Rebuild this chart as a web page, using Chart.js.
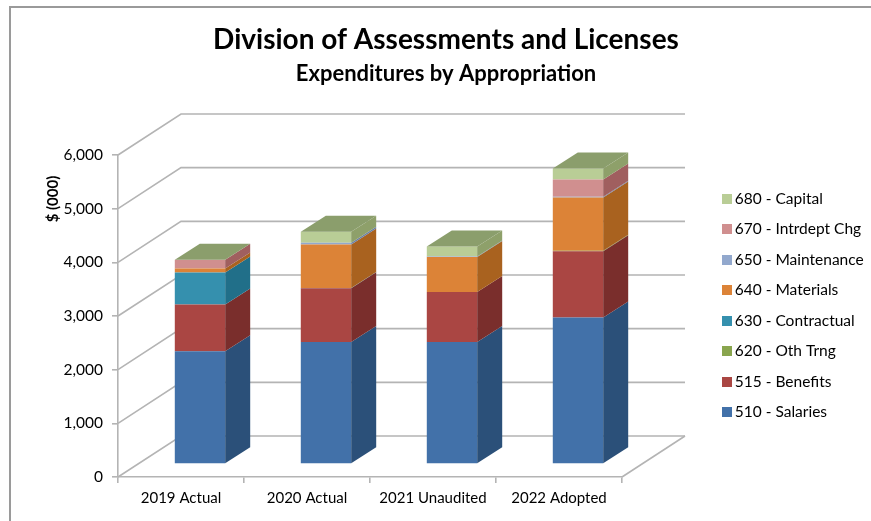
<!DOCTYPE html>
<html>
<head>
<meta charset="utf-8">
<style>
    html, body { margin: 0; padding: 0; background: #fff; }
    #wrap { width: 871px; height: 521px; }
</style>
<script src="https://cdn.jsdelivr.net/npm/chart.js@4/dist/chart.umd.min.js"></script>
</head>
<body>
<div id="wrap"><canvas id="expChart" width="871" height="521"></canvas></div>
<script>
const categories = ['2019 Actual', '2020 Actual', '2021 Unaudited', '2022 Adopted'];
const yTicks = [0, 1000, 2000, 3000, 4000, 5000, 6000];

const salaries = [2100, 2275, 2275, 2730];
const benefits = [874, 1000, 930, 1235];
const othTrng = [0, 0, 0, 10];
const contractual = [594, 5, 0, 0];
const materials = [74, 811, 650, 990];
const maintenance = [0, 30, 10, 15];
const intrdeptChg = [162, 0, 0, 320];
const capital = [0, 205, 190, 204];

const seriesNames = ['510 - Salaries', '515 - Benefits', '620 - Oth Trng', '630 - Contractual',
    '640 - Materials', '650 - Maintenance', '670 - Intrdept Chg', '680 - Capital'];
const seriesValues = [salaries, benefits, othTrng, contractual, materials, maintenance, intrdeptChg, capital];
const frontColors = ['#4271a9', '#aa4643', '#89a54e', '#3590ae', '#dc8337', '#92a8cd', '#d08f8f', '#b9cd96'];
const sideColors = ['#2b5079', '#7a2e2c', '#6a8139', '#216f89', '#a9621f', '#6b7fa3', '#a05f5f', '#8ea06a'];
const topColor = '#8b9e6c';
const gridColor = '#b4b4b4';
const fontName = 'Lato, "Open Sans", sans-serif';

// fake 3D: how far the back wall sits from the front of the floor
const WALL_DX = 63, WALL_DY = -41;
const BAR_DX = 19, BAR_DY = -13;      // bar front face, from the axis plane
const DEPTH_DX = 25, DEPTH_DY = -16;  // bar depth

// legend swatches as small canvases so the text can sit close to them
function swatch(color) {
    const c = document.createElement('canvas');
    c.width = 10;
    c.height = 10;
    const g = c.getContext('2d');
    g.fillStyle = color;
    g.fillRect(0, 0, 10, 10);
    return c;
}

const boxPlugin = {
    id: 'box3d',
    afterLayout(chart) {
        // title stays centred over the whole picture, legend sits right of the floor
        chart.boxes.forEach(b => {
            if (b.position === 'top') { b.left = 21; b.right = 871; }
        });
        const lg = chart.legend;
        lg.left = 712;
        lg.right = 871;
        lg.top = 176;
        lg.bottom = 440;
    },
    beforeDraw(chart) {
        const ctx = chart.ctx;
        ctx.save();
        ctx.strokeStyle = '#9a9a9a';
        ctx.lineWidth = 2;
        ctx.beginPath();
        ctx.moveTo(10, 521);
        ctx.lineTo(10, 7);
        ctx.lineTo(871, 7);
        ctx.stroke();
        ctx.restore();
    },
    beforeDatasetsDraw(chart) {
        const ctx = chart.ctx;
        const { x, y } = chart.scales;
        ctx.save();
        ctx.strokeStyle = gridColor;
        ctx.lineWidth = 1.6;
        yTicks.forEach(v => {
            const py = y.getPixelForValue(v);
            ctx.beginPath();
            ctx.moveTo(x.left, py);
            ctx.lineTo(x.left + WALL_DX, py + WALL_DY);
            ctx.lineTo(x.right + WALL_DX, py + WALL_DY);
            ctx.stroke();
        });
        const p0 = y.getPixelForValue(0);
        ctx.beginPath();
        ctx.moveTo(x.right, p0);
        ctx.lineTo(x.right + WALL_DX, p0 + WALL_DY);
        ctx.stroke();
        ctx.restore();

        ctx.save();
        ctx.translate(BAR_DX, BAR_DY);
    },
    afterDatasetsDraw(chart) {
        const ctx = chart.ctx;
        categories.forEach((c, i) => {
            let topBar = null;
            seriesValues.forEach((vals, s) => {
                if (!vals[i]) return;
                const bar = chart.getDatasetMeta(s).data[i];
                const r = bar.x + bar.width / 2;
                ctx.fillStyle = sideColors[s];
                ctx.beginPath();
                ctx.moveTo(r, bar.base);
                ctx.lineTo(r + DEPTH_DX, bar.base + DEPTH_DY);
                ctx.lineTo(r + DEPTH_DX, bar.y + DEPTH_DY);
                ctx.lineTo(r, bar.y);
                ctx.closePath();
                ctx.fill();
                topBar = bar;
            });
            const l = topBar.x - topBar.width / 2;
            const r = topBar.x + topBar.width / 2;
            ctx.fillStyle = topColor;
            ctx.beginPath();
            ctx.moveTo(l, topBar.y);
            ctx.lineTo(r, topBar.y);
            ctx.lineTo(r + DEPTH_DX, topBar.y + DEPTH_DY);
            ctx.lineTo(l + DEPTH_DX, topBar.y + DEPTH_DY);
            ctx.closePath();
            ctx.fill();
        });
        ctx.restore();
    },
    afterDraw(chart) {
        const ctx = chart.ctx;
        ctx.save();
        ctx.translate(53, 199);
        ctx.rotate(-Math.PI / 2);
        ctx.font = 'bold 15px ' + fontName;
        ctx.fillStyle = '#000';
        ctx.textAlign = 'center';
        ctx.textBaseline = 'middle';
        ctx.fillText('$ (000)', 0, 0);
        ctx.restore();
    }
};

new Chart(document.getElementById('expChart'), {
    type: 'bar',
    data: {
        labels: categories,
        datasets: seriesNames.map((name, i) => ({
            label: name,
            data: seriesValues[i],
            backgroundColor: frontColors[i],
            borderWidth: 0,
            clip: false,
            categoryPercentage: 1,
            barPercentage: 0.4
        }))
    },
    options: {
        responsive: false,
        animation: false,
        layout: { padding: { left: 21, right: 249, top: 23, bottom: 8 } },
        plugins: {
            title: {
                display: true,
                text: 'Division of Assessments and Licenses',
                color: '#000',
                font: { family: fontName, size: 28, weight: 'bold' },
                padding: { top: 0, bottom: 4 }
            },
            subtitle: {
                display: true,
                text: 'Expenditures by Appropriation',
                color: '#000',
                font: { family: fontName, size: 22, weight: 'bold' },
                padding: { top: 0, bottom: 68 }
            },
            legend: {
                position: 'chartArea',
                align: 'start',
                reverse: true,
                labels: {
                    usePointStyle: true,
                    pointStyleWidth: 0.01,
                    boxHeight: 10,
                    padding: 15,
                    color: '#000',
                    font: { family: fontName, size: 15.5 },
                    generateLabels(chart) {
                        const items = Chart.defaults.plugins.legend.labels.generateLabels(chart);
                        items.forEach(it => { it.pointStyle = swatch(frontColors[it.datasetIndex]); });
                        return items;
                    }
                }
            },
            tooltip: { enabled: false }
        },
        scales: {
            x: {
                stacked: true,
                border: { color: gridColor, width: 1.6 },
                grid: { offset: true, drawOnChartArea: false, tickLength: 6, color: gridColor, lineWidth: 1.6 },
                ticks: { color: '#000', padding: 6, font: { family: fontName, size: 15 }, maxRotation: 0, autoSkip: false }
            },
            y: {
                stacked: true,
                min: 0,
                max: 6000,
                afterFit(s) { s.width = 97; },
                border: { color: gridColor, width: 1.6 },
                grid: { drawOnChartArea: false, tickLength: 6, color: gridColor, lineWidth: 1.6 },
                ticks: {
                    stepSize: 1000,
                    color: '#000',
                    padding: 9,
                    font: { family: fontName, size: 15.5 },
                    callback: v => v.toLocaleString('en-US')
                }
            }
        }
    },
    plugins: [boxPlugin]
});
</script>
</body>
</html>
